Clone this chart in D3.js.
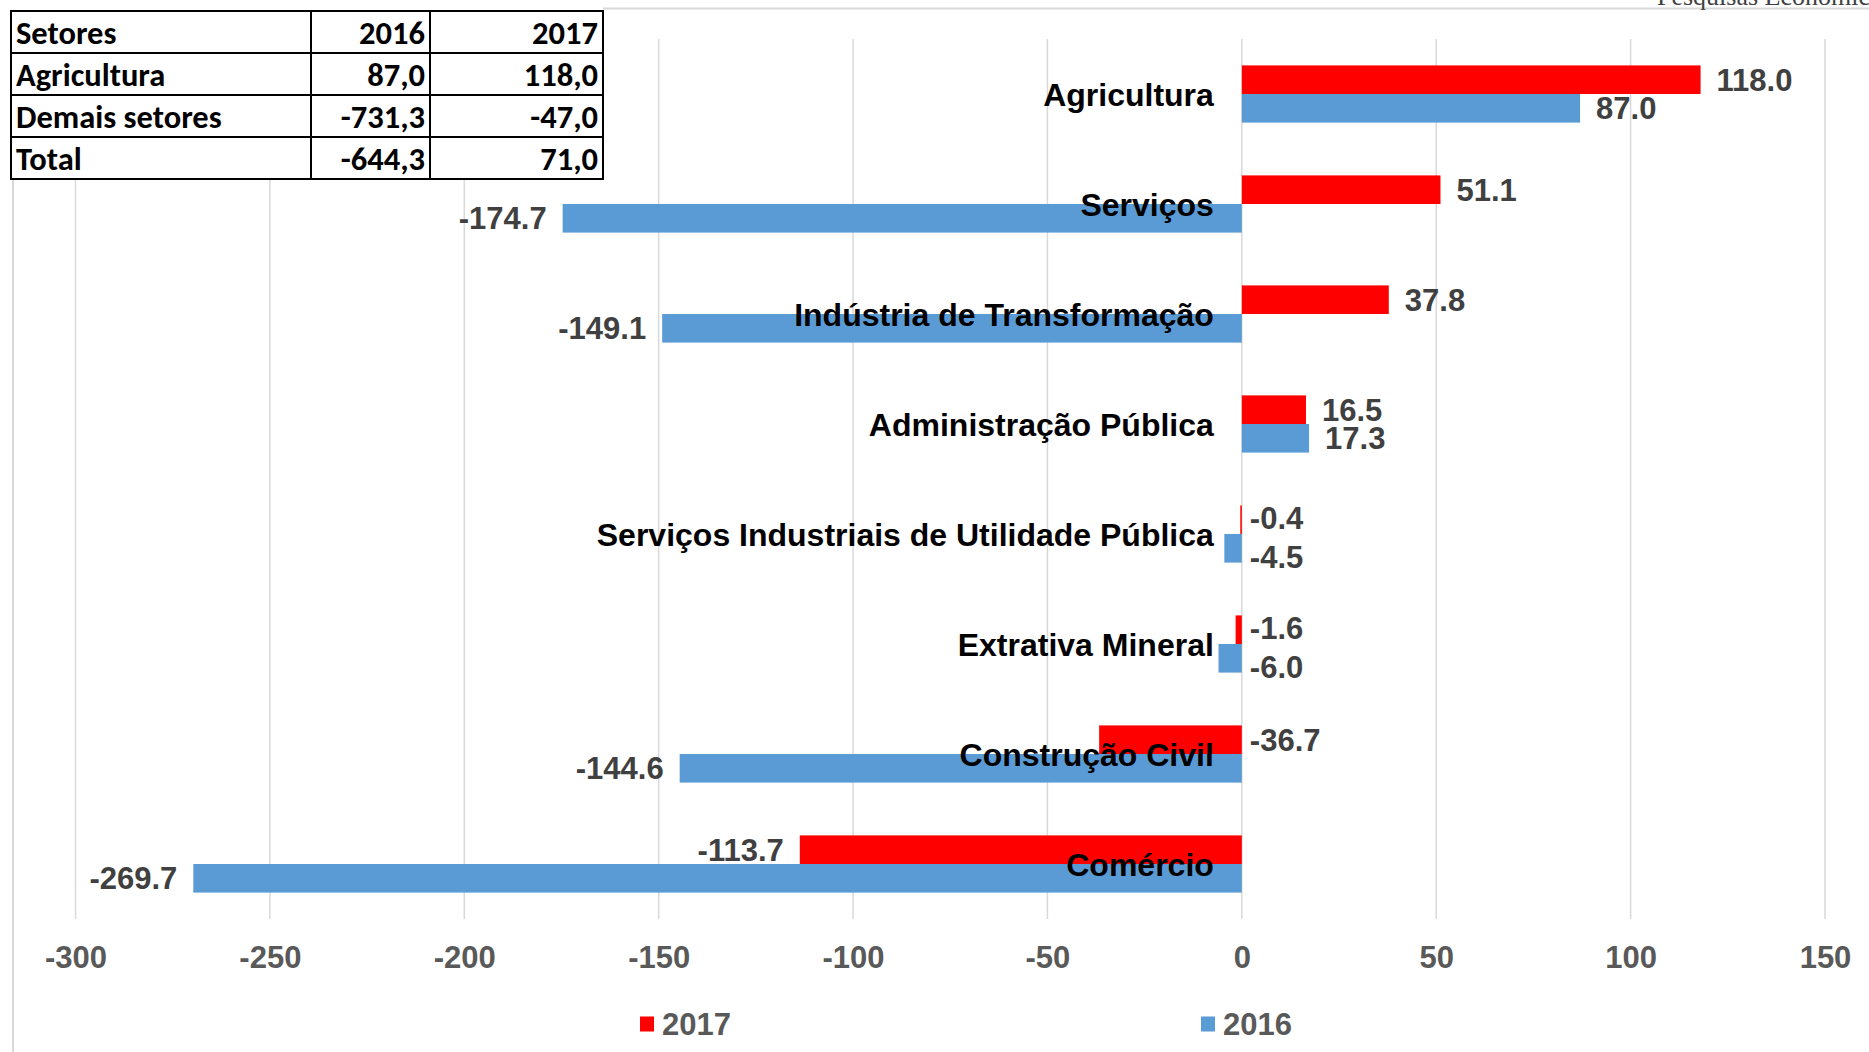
<!DOCTYPE html>
<html>
<head>
<meta charset="utf-8">
<script src="https://cdn.jsdelivr.net/npm/d3@7"></script>
<style>
	body { margin: 0; background: #fff; }
	svg { display: block; }
</style>
</head>
<body>
<svg id="chart" width="1869" height="1052"></svg>
<script>
// chart values
const sectors = [
	'Agricultura',
	'Serviços',
	'Indústria de Transformação',
	'Administração Pública',
	'Serviços Industriais de Utilidade Pública',
	'Extrativa Mineral',
	'Construção Civil',
	'Comércio'
];
const values2017 = [118.0, 51.1, 37.8, 16.5, -0.4, -1.6, -36.7, -113.7];
const values2016 = [87.0, -174.7, -149.1, 17.3, -4.5, -6.0, -144.6, -269.7];
const seriesNames = ['2017', '2016'];
const xTicks = [-300, -250, -200, -150, -100, -50, 0, 50, 100, 150];

// small table in the corner
const tableHeader = ['Setores', '2016', '2017'];
const tableRows = [
	['Agricultura', '87,0', '118,0'],
	['Demais setores', '-731,3', '-47,0'],
	['Total', '-644,3', '71,0']
];

const colors = { '2017': '#ff0000', '2016': '#5b9bd5' };

const draw = (target, d3 = window.d3) => {
	const plot = { left: 75.5, right: 1825, top: 39, bottom: 919 };

	const x = d3.scaleLinear().domain([-300, 150]).range([plot.left, plot.right]);
	const y = d3.scaleBand().domain(sectors)
		.range([plot.top, plot.bottom])
		.paddingInner(0.48).paddingOuter(0.24);
	const ySeries = d3.scaleBand().domain(seriesNames).range([0, y.bandwidth()]);

	const data = [];
	sectors.forEach((s, i) => {
		data.push({ sector: s, series: '2017', value: values2017[i] });
		data.push({ sector: s, series: '2016', value: values2016[i] });
	});

	// frame lines
	target.append('line')
		.attr('x1', 603).attr('x2', 1869).attr('y1', 8.5).attr('y2', 8.5)
		.attr('stroke', '#d9d9d9').attr('stroke-width', 2);
	target.append('line')
		.attr('x1', 13).attr('x2', 13).attr('y1', 179).attr('y2', 1052)
		.attr('stroke', '#d9d9d9').attr('stroke-width', 2);

	// source text, cut off at the top edge
	target.append('text')
		.attr('x', 1657).attr('y', 5)
		.attr('font-family', '"Liberation Serif", "DejaVu Serif", serif')
		.attr('font-size', 26).attr('fill', '#404040')
		.text('Pesquisas  Econômicas');

	// grid
	target.append('g')
		.selectAll('line')
		.data(xTicks)
		.enter().append('line')
		.attr('x1', d => x(d)).attr('x2', d => x(d))
		.attr('y1', plot.top).attr('y2', plot.bottom)
		.attr('stroke', '#d9d9d9').attr('stroke-width', 1.5);

	// x axis labels (plain hyphen, like the original)
	const axis = target.append('g')
		.attr('transform', `translate(0,${plot.bottom + 49})`)
		.call(d3.axisBottom(x).tickValues(xTicks).tickFormat(d => String(d)).tickSize(0).tickPadding(0));
	axis.select('.domain').remove();
	axis.selectAll('text')
		.attr('dy', 0)
		.attr('font-family', '"Liberation Sans", Arial, sans-serif')
		.attr('font-weight', 'bold')
		.attr('font-size', 31)
		.attr('fill', '#595959');

	// bars
	target.append('g')
		.selectAll('rect')
		.data(data)
		.enter().append('rect')
		.attr('x', d => x(Math.min(0, d.value)))
		.attr('y', d => y(d.sector) + ySeries(d.series))
		.attr('width', d => Math.abs(x(d.value) - x(0)))
		.attr('height', ySeries.bandwidth())
		.attr('fill', d => colors[d.series]);

	// value labels
	const small = d => d.value < 0 && d.value > -40;
	target.append('g')
		.selectAll('text')
		.data(data)
		.enter().append('text')
		.attr('x', d => {
			if (d.value >= 0) return x(d.value) + 16;
			// small negatives were put right of the zero line
			if (small(d)) return x(0) + 8;
			return x(d.value) - 16;
		})
		.attr('y', d => {
			let yy = y(d.sector) + ySeries(d.series) + ySeries.bandwidth() / 2;
			// the tiny pairs were spread apart a little
			if (small(d) && Math.abs(d.value) < 10) yy += d.series === '2016' ? 9 : -2;
			return yy;
		})
		.attr('dy', '0.36em')
		.attr('text-anchor', d => (d.value >= 0 || small(d)) ? 'start' : 'end')
		.attr('font-family', '"Liberation Sans", Arial, sans-serif')
		.attr('font-weight', 'bold')
		.attr('font-size', 31)
		.attr('fill', '#404040')
		.text(d => d.value.toFixed(1));

	// category labels over the bars
	target.append('g')
		.selectAll('text')
		.data(sectors)
		.enter().append('text')
		.attr('x', x(0) - 28)
		.attr('y', d => y(d) + y.bandwidth() / 2)
		.attr('dy', '0.36em')
		.attr('text-anchor', 'end')
		.attr('font-family', '"Liberation Sans", Arial, sans-serif')
		.attr('font-weight', 'bold')
		.attr('font-size', 32)
		.attr('fill', '#000')
		.text(d => d);

	// legend
	const legendX = [640, 1201];
	const legend = target.append('g')
		.selectAll('g')
		.data(seriesNames)
		.enter().append('g')
		.attr('transform', (d, i) => `translate(${legendX[i]},1024)`);
	legend.append('rect')
		.attr('x', 0).attr('y', -7.5)
		.attr('width', 14).attr('height', 15)
		.attr('fill', d => colors[d]);
	legend.append('text')
		.attr('x', 22).attr('dy', '0.36em')
		.attr('font-family', '"Liberation Sans", Arial, sans-serif')
		.attr('font-weight', 'bold')
		.attr('font-size', 31)
		.attr('fill', '#595959')
		.text(d => d);

	// table
	const colX = [11, 311, 430, 603];
	const rowH = 42;
	const top = 11;
	const rows = [tableHeader].concat(tableRows);
	const tbl = target.append('g');
	tbl.append('rect')
		.attr('x', colX[0]).attr('y', top)
		.attr('width', colX[3] - colX[0]).attr('height', rowH * rows.length)
		.attr('fill', '#fff');
	rows.forEach((row, r) => {
		row.forEach((cell, c) => {
			tbl.append('text')
				.attr('x', c === 0 ? colX[0] + 5 : colX[c + 1] - 5)
				.attr('y', top + r * rowH + 33)
				.attr('text-anchor', c === 0 ? 'start' : 'end')
				.attr('font-family', 'Carlito, Calibri, Lato, sans-serif')
				.attr('font-weight', 'bold')
				.attr('font-size', 32.5)
				.attr('fill', '#000')
				.text(cell);
		});
	});
	d3.range(rows.length + 1).forEach(r => {
		tbl.append('line')
			.attr('x1', colX[0]).attr('x2', colX[3])
			.attr('y1', top + r * rowH).attr('y2', top + r * rowH)
			.attr('stroke', '#000').attr('stroke-width', 2);
	});
	colX.forEach(cx => {
		tbl.append('line')
			.attr('x1', cx).attr('x2', cx)
			.attr('y1', top - 1).attr('y2', top + rowH * rows.length + 1)
			.attr('stroke', '#000').attr('stroke-width', 2);
	});
};

draw(d3.select('#chart'));
</script>
</body>
</html>
